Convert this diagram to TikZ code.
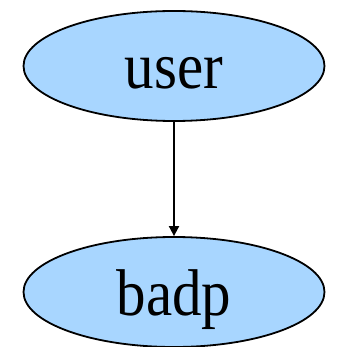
\documentclass[tikz,border=0pt]{standalone}
\usepackage{fontspec}
\setmainfont{Liberation Serif}
\usetikzlibrary{shapes.geometric,arrows.meta}
\begin{document}
\begin{tikzpicture}[x=1pt,y=-1pt,
  state/.style={ellipse, draw=black, line width=1.8pt,
    fill={rgb,255:red,168;green,214;blue,255},
    minimum width=301pt, minimum height=110pt, inner sep=0pt,
    text height=50pt, text depth=4pt,
    font=\fontsize{59}{59}\selectfont},
  link/.style={draw=black, line width=1.8pt, -{Triangle[length=10pt,width=10pt]}}]
  \useasboundingbox (0,0) rectangle (337,347);
  \node[state] (user) at (174,66) {\scalebox{1}[1.12]{user}};
  \node[state] (badp) at (174,292) {\scalebox{1}[1.12]{badp}};
  \draw[link] (user) -- (badp);
\end{tikzpicture}
\end{document}
